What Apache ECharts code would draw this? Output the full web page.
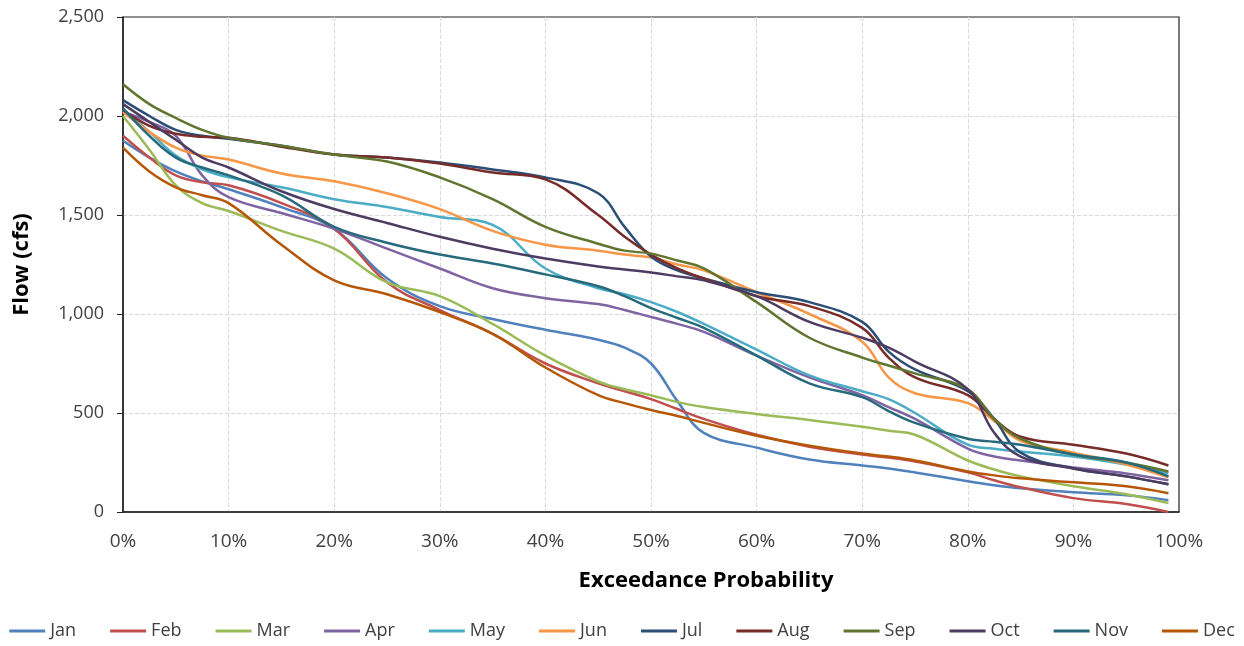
<!DOCTYPE html>
<html>
<head>
<meta charset="utf-8">
<script src="https://cdn.jsdelivr.net/npm/echarts@6/dist/echarts.min.js"></script>
<style>
  html, body { margin: 0; padding: 0; background: #fff; }
  #flow_chart { width: 1244px; height: 646px; }
</style>
</head>
<body>
<div id="flow_chart"></div>
<script>
// exceedance probability (%) where flows were read
const probs = [0, 2.5, 5, 7.5, 10, 15, 20, 25, 30, 35, 40, 45, 47.5, 50, 52.5, 55, 60, 65, 70, 72.5, 75, 80, 82.5, 85, 90, 95, 99];

const months = ['Jan', 'Feb', 'Mar', 'Apr', 'May', 'Jun', 'Jul', 'Aug', 'Sep', 'Oct', 'Nov', 'Dec'];

// flow (cfs) per month
const jan = [1875, 1790, 1720, 1670, 1630, 1540, 1430, 1180, 1040, 975, 920, 870, 830, 750, 560, 400, 325, 265, 235, 220, 200, 155, 135, 120, 100, 85, 60];
const feb = [1900, 1790, 1700, 1665, 1650, 1560, 1430, 1160, 1020, 900, 750, 650, 610, 570, 520, 470, 390, 330, 290, 275, 255, 200, 160, 125, 70, 40, 0];
const mar = [2000, 1830, 1650, 1560, 1520, 1420, 1330, 1160, 1090, 950, 790, 660, 620, 590, 555, 530, 495, 465, 430, 410, 390, 260, 215, 180, 130, 90, 45];
const apr = [2020, 1970, 1900, 1700, 1590, 1510, 1430, 1330, 1230, 1130, 1080, 1050, 1020, 985, 950, 910, 790, 680, 590, 530, 470, 320, 280, 260, 225, 195, 160];
const may = [2030, 1920, 1800, 1730, 1690, 1640, 1580, 1540, 1490, 1450, 1230, 1130, 1100, 1060, 1010, 950, 820, 690, 610, 570, 500, 340, 320, 305, 280, 240, 195];
const jun = [2020, 1920, 1840, 1800, 1780, 1710, 1670, 1610, 1530, 1420, 1350, 1320, 1300, 1285, 1250, 1220, 1110, 1000, 860, 680, 600, 550, 460, 360, 300, 240, 175];
const jul = [2080, 2000, 1930, 1900, 1885, 1850, 1805, 1790, 1765, 1730, 1690, 1610, 1440, 1290, 1220, 1180, 1110, 1060, 960, 810, 720, 610, 470, 300, 220, 180, 140];
const aug = [2030, 1950, 1910, 1895, 1890, 1845, 1805, 1790, 1760, 1715, 1680, 1500, 1390, 1300, 1230, 1180, 1090, 1040, 930, 780, 680, 590, 470, 380, 340, 295, 235];
const sep = [2160, 2060, 1990, 1930, 1890, 1850, 1805, 1770, 1690, 1580, 1440, 1355, 1320, 1305, 1270, 1230, 1060, 880, 780, 740, 700, 620, 470, 370, 290, 250, 205];
const oct = [2060, 1970, 1880, 1790, 1740, 1620, 1530, 1460, 1390, 1330, 1280, 1240, 1225, 1210, 1190, 1170, 1090, 960, 880, 830, 760, 620, 400, 280, 220, 180, 140];
const nov = [2040, 1900, 1790, 1740, 1700, 1600, 1440, 1360, 1300, 1255, 1200, 1140, 1090, 1030, 980, 930, 790, 650, 580, 510, 450, 370, 355, 340, 290, 250, 180];
const dec = [1840, 1720, 1640, 1600, 1560, 1350, 1170, 1100, 1010, 900, 730, 590, 550, 515, 485, 450, 385, 335, 295, 280, 260, 205, 185, 170, 150, 130, 95];

const flows = [jan, feb, mar, apr, may, jun, jul, aug, sep, oct, nov, dec];
const colors = ['#4F81BD', '#C0504D', '#9BBB59', '#8064A2', '#4BACC6', '#F79646',
                '#2C4D75', '#772C2A', '#5F7530', '#4D3B62', '#276A7C', '#B65708'];

let chart = echarts.init(document.getElementById('flow_chart'));
let option = {
    animation: false,
    color: colors,
    textStyle: { fontFamily: 'Open Sans' },
    grid: {
        left: 123, right: 65, top: 17, bottom: 134,
        show: true, borderColor: '#222', borderWidth: 1.2
    },
    legend: {
        data: months,
        left: 'center',
        bottom: 1,
        icon: 'rect',
        itemWidth: 36,
        itemHeight: 3,
        itemGap: 34,
        textStyle: { fontSize: 18, color: '#404040' }
    },
    xAxis: {
        type: 'value',
        min: 0, max: 100, interval: 10,
        name: 'Exceedance Probability',
        nameLocation: 'middle',
        nameGap: 58,
        nameTextStyle: { fontSize: 22, fontWeight: 'bold', color: '#000', padding: [0, 0, 0, 110] },
        axisLine: { lineStyle: { color: '#222', width: 1.5 } },
        axisTick: { show: false },
        axisLabel: { formatter: '{value}%', fontSize: 19, color: '#404040', margin: 20 },
        splitLine: { show: true, showMinLine: false, showMaxLine: false, lineStyle: { color: '#d9d9d9', type: 'dashed' } }
    },
    yAxis: {
        type: 'value',
        min: 0, max: 2500, interval: 500,
        name: 'Flow (cfs)',
        nameLocation: 'middle',
        nameGap: 90,
        nameTextStyle: { fontSize: 22, fontWeight: 'bold', color: '#000' },
        axisLine: { show: true, lineStyle: { color: '#222', width: 1.5 } },
        axisTick: { show: true, length: 6, lineStyle: { color: '#222' } },
        axisLabel: {
            fontSize: 18, color: '#404040', margin: 19,
            formatter: function (v) { return v.toLocaleString('en-US'); }
        },
        splitLine: { show: true, showMinLine: false, showMaxLine: false, lineStyle: { color: '#d9d9d9', type: 'dashed' } }
    },
    series: months.map(function (m, i) {
        return {
            name: m,
            type: 'line',
            smooth: 0.4,
            showSymbol: false,
            lineStyle: { width: 2.5 },
            data: probs.map(function (p, j) { return [p, flows[i][j]]; })
        };
    })
};
chart.setOption(option);
</script>
</body>
</html>
